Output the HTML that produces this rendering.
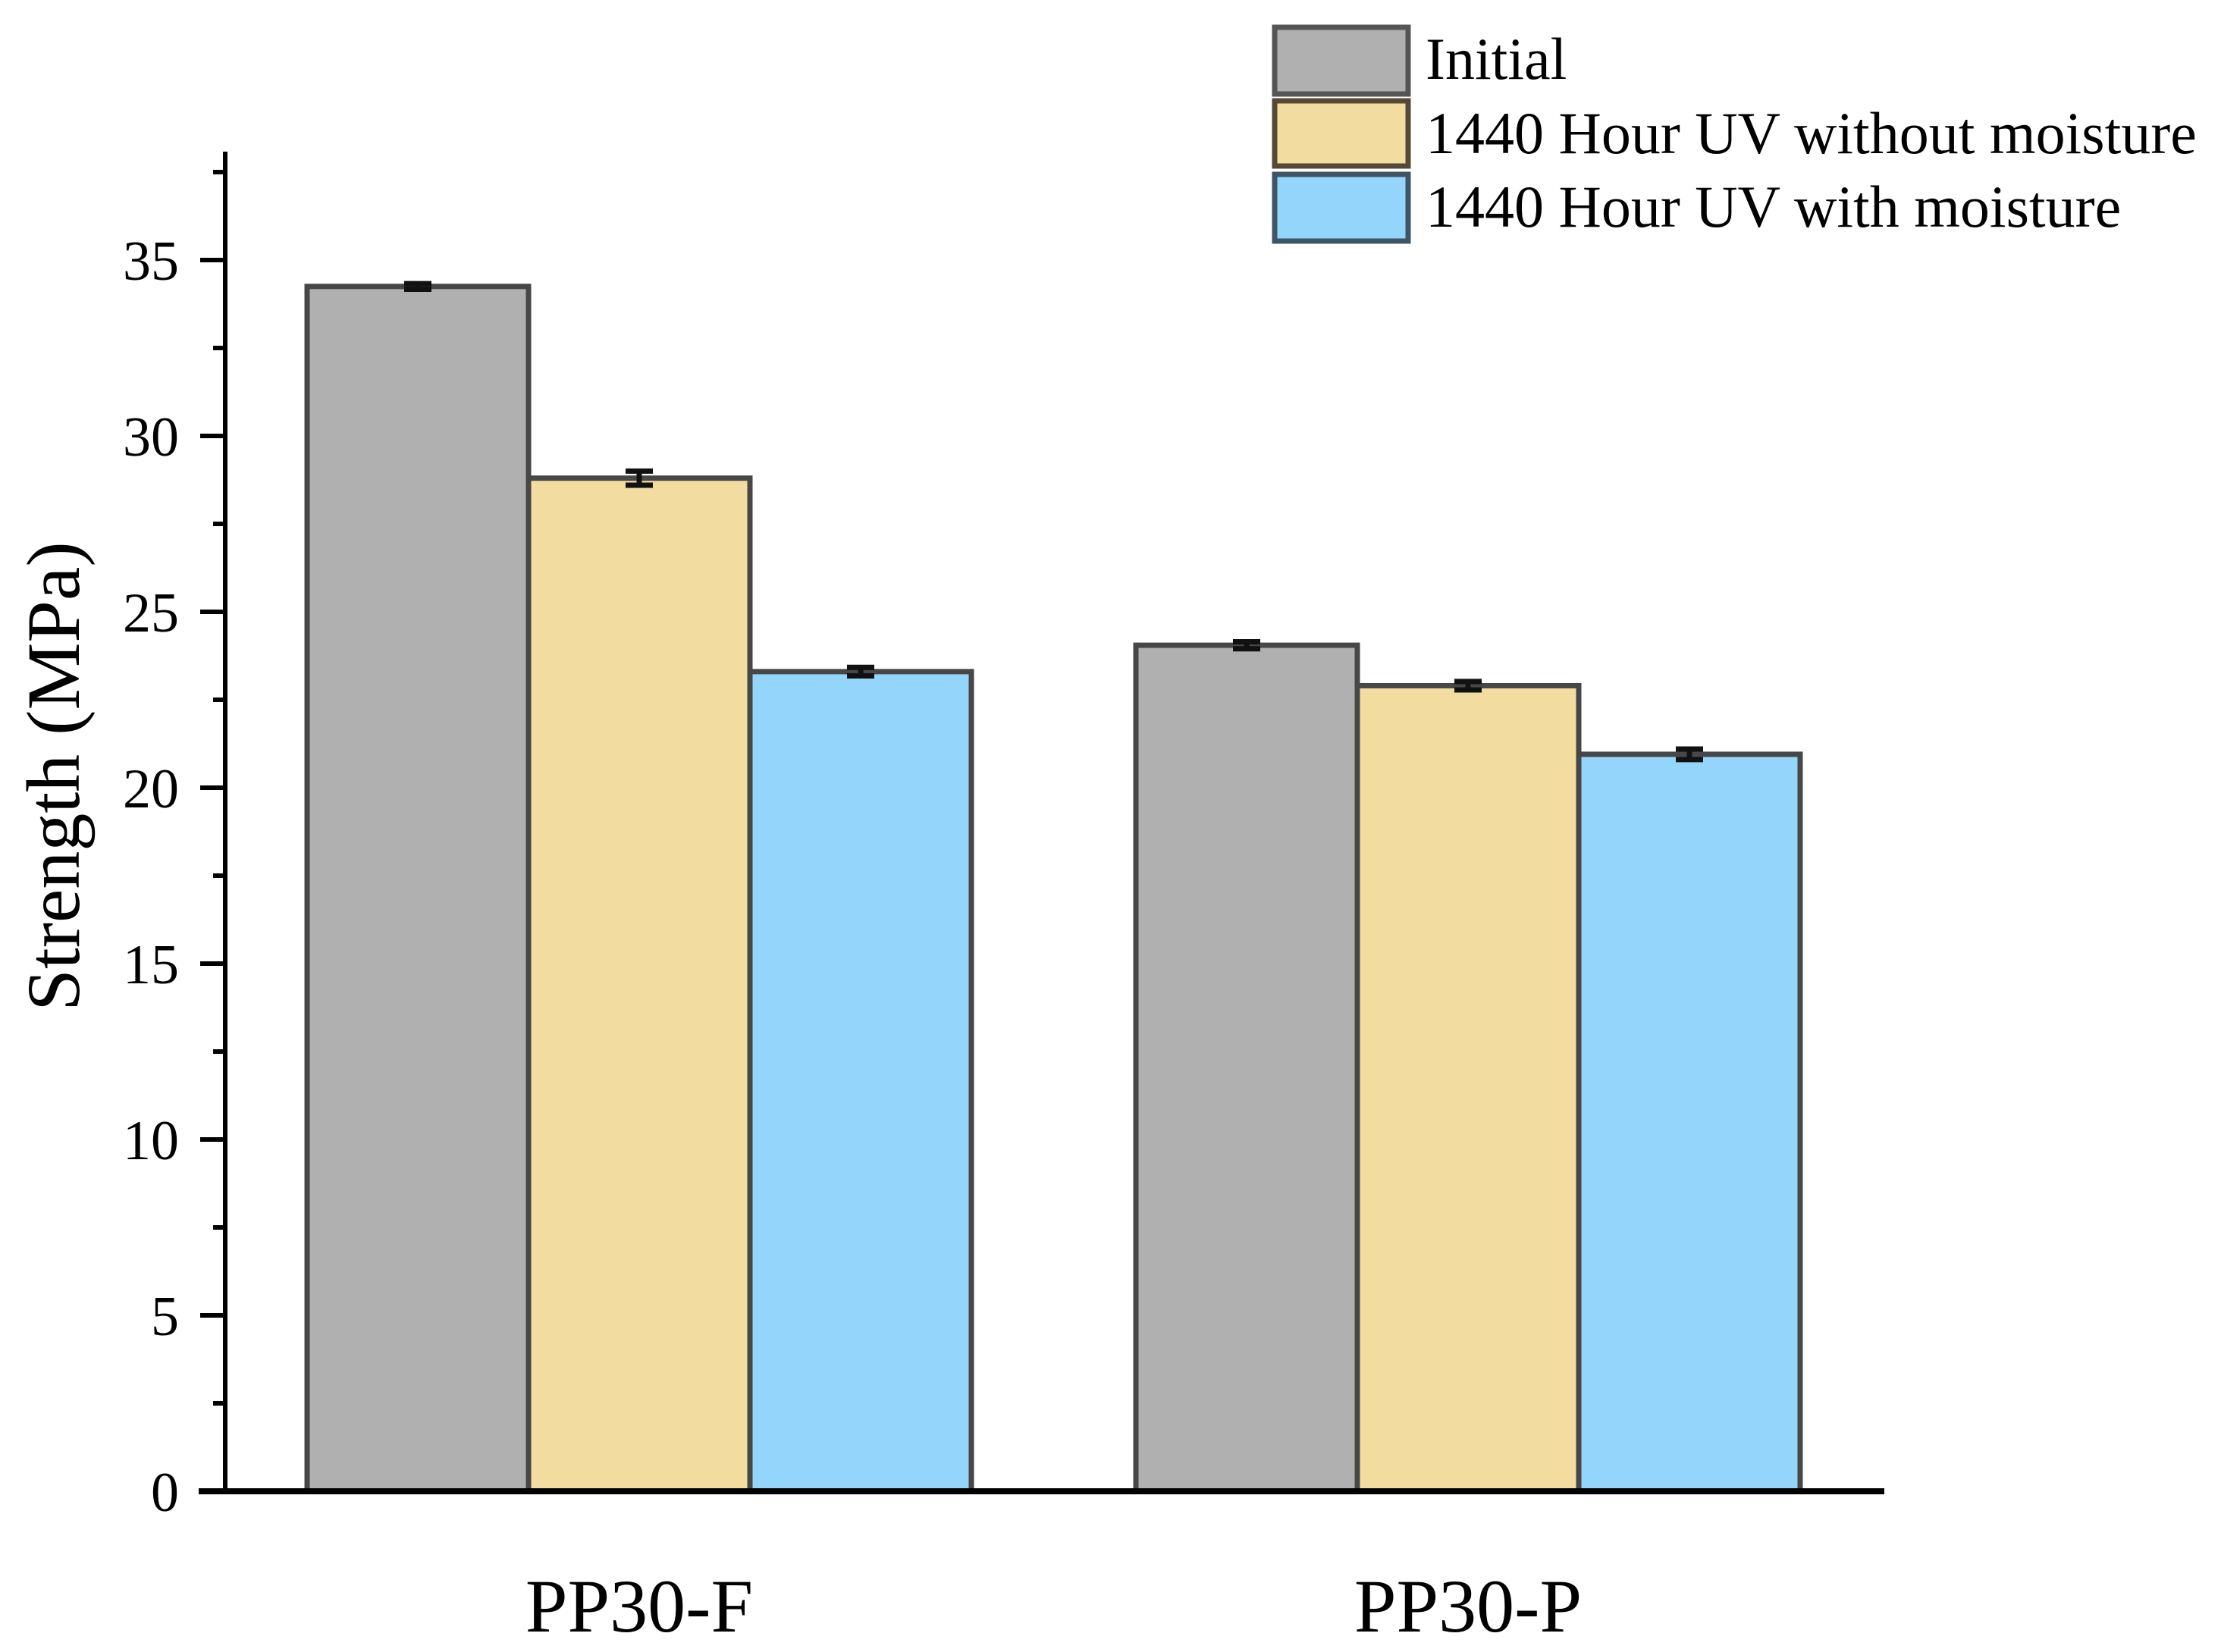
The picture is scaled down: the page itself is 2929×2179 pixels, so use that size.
<!DOCTYPE html>
<html><head><meta charset="utf-8"><style>
html,body{margin:0;padding:0;background:#fff;}
svg{display:block;font-family:"Liberation Serif",serif;}
</style></head><body>
<svg id="chart" width="2929" height="2179" viewBox="0 0 2929 2179">
<g id="bars"></g>
<g id="axes"></g>
<text transform="translate(104,1024) rotate(-90)" text-anchor="middle" font-size="100">Strength (MPa)</text>
<g>
 <g>
  <rect x="1681" y="36" width="176" height="88" fill="#b0b0b0" stroke="#555" stroke-width="7"/>
  <text x="1880" y="104" font-size="78">Initial</text>
 </g>
 <g>
  <rect x="1681" y="133" width="176" height="86" fill="#f3dc9f" stroke="#554a38" stroke-width="7"/>
  <text x="1880" y="202" font-size="78">1440 Hour UV without moisture</text>
 </g>
 <g>
  <rect x="1681" y="230" width="176" height="88" fill="#94d5fb" stroke="#3f5566" stroke-width="7"/>
  <text x="1880" y="299" font-size="78">1440 Hour UV with moisture</text>
 </g>
</g>
<script>
const categories = ["PP30-F", "PP30-P"];
const seriesInitial = [34.25, 24.05];
const seriesNoMoist = [28.8, 22.9];
const seriesMoist = [23.3, 20.95];
const errInitial = [0.08, 0.1];
const errNoMoist = [0.2, 0.12];
const errMoist = [0.12, 0.15];
const yTicks = [0, 5, 10, 15, 20, 25, 30, 35];

const NS = "http://www.w3.org/2000/svg";
const x0 = 297, baseY = 1967, pxPerUnit = 46.4, axisRight = 2485, axisTopY = 200;
const yS = v => baseY - v * pxPerUnit;
const groupStart = [405, 1498];
const barW = 292;
const series = [
 {vals: seriesInitial, err: errInitial, fill: "#b0b0b0", name: "initial"},
 {vals: seriesNoMoist, err: errNoMoist, fill: "#f3dc9f", name: "uv-without-moisture"},
 {vals: seriesMoist, err: errMoist, fill: "#94d5fb", name: "uv-with-moisture"}
];
function mk(tag, attrs, parent) {
 const e = document.createElementNS(NS, tag);
 for (const k in attrs) e.setAttribute(k, attrs[k]);
 parent.appendChild(e);
 return e;
}
const bars = document.getElementById("bars");
const axes = document.getElementById("axes");
categories.forEach((c, ci) => {
 series.forEach((s, si) => {
  const x = groupStart[ci] + si * barW;
  const v = s.vals[ci];
  const r = mk("rect", {x: x, y: yS(v), width: barW, height: baseY - yS(v), fill: s.fill, stroke: "#474747", "stroke-width": 7}, bars);
  
  
  const cx = x + barW / 2, e = s.err[ci];
  const eb = mk("g", {stroke: "#111", "stroke-width": 7}, bars);
  
  
  mk("line", {x1: cx, x2: cx, y1: yS(v + e) - 3, y2: yS(v - e) + 3}, eb);
  mk("line", {x1: cx - 18, x2: cx + 18, y1: yS(v + e), y2: yS(v + e)}, eb);
  mk("line", {x1: cx - 18, x2: cx + 18, y1: yS(v - e), y2: yS(v - e)}, eb);
 });
 const t = mk("text", {x: groupStart[ci] + barW * 1.5, y: 2152, "font-size": 100, "text-anchor": "middle"}, axes);
 t.textContent = c;
 
 
});
const yl = mk("line", {x1: x0, x2: x0, y1: axisTopY, y2: baseY, stroke: "#000", "stroke-width": 6}, axes);


const xl = mk("line", {x1: 262, x2: axisRight, y1: baseY, y2: baseY, stroke: "#000", "stroke-width": 8}, axes);


yTicks.forEach(v => {
 const tk = mk("line", {x1: x0 - 33, x2: x0, y1: yS(v), y2: yS(v), stroke: "#000", "stroke-width": 6}, axes);
 
 
 const mv = v + 2.5;
 const mt = mk("line", {x1: x0 - 16, x2: x0, y1: yS(mv), y2: yS(mv), stroke: "#000", "stroke-width": 6}, axes);
 
 
 const lb = mk("text", {x: 236, y: yS(v) + 26, "font-size": 74, "text-anchor": "end"}, axes);
 lb.textContent = v;
 
 
});
</script>
</svg>
</body></html>
